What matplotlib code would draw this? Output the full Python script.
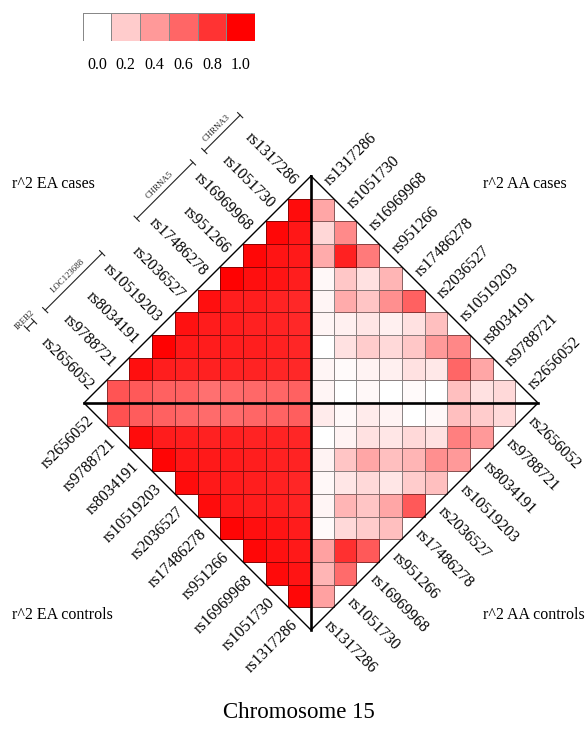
import numpy as np
import matplotlib
matplotlib.use('Agg')
import matplotlib.pyplot as plt
from matplotlib.colors import LinearSegmentedColormap

plt.rcParams['font.family'] = ['Liberation Serif', 'DejaVu Serif']

# ---------------- data ----------------
snps = ['rs2656052', 'rs9788721', 'rs8034191', 'rs10519203', 'rs2036527',
        'rs17486278', 'rs951266', 'rs16969968', 'rs1051730', 'rs1317286']

# r^2 rows: row i holds pairs (snp i, snp j) for j = i+1 .. 9
ea_cases = [
    [0.67, 0.65, 0.62, 0.62, 0.56, 0.58, 0.59, 0.60, 0.62],
    [0.94, 0.88, 0.87, 0.87, 0.86, 0.86, 0.85, 0.84],
    [0.99, 0.90, 0.89, 0.88, 0.88, 0.87, 0.85],
    [0.93, 0.89, 0.88, 0.87, 0.86, 0.84],
    [0.94, 0.88, 0.88, 0.86, 0.84],
    [0.99, 0.94, 0.92, 0.88],
    [0.97, 0.92, 0.90],
    [0.97, 0.91],
    [0.95],
]
ea_controls = [
    [0.68, 0.64, 0.62, 0.60, 0.58, 0.58, 0.60, 0.61, 0.63],
    [0.95, 0.89, 0.88, 0.87, 0.87, 0.86, 0.86, 0.85],
    [0.98, 0.91, 0.90, 0.89, 0.88, 0.87, 0.86],
    [0.95, 0.90, 0.89, 0.88, 0.87, 0.85],
    [0.95, 0.90, 0.89, 0.88, 0.86],
    [0.98, 0.94, 0.92, 0.89],
    [0.97, 0.93, 0.90],
    [0.96, 0.92],
    [0.97],
]
aa_cases = [
    [0.15, 0.12, 0.25, 0.00, 0.02, 0.00, 0.03, 0.00, 0.04],
    [0.35, 0.60, 0.09, 0.12, 0.06, 0.05, 0.02, 0.04],
    [0.47, 0.40, 0.22, 0.15, 0.20, 0.12, 0.00],
    [0.25, 0.12, 0.06, 0.10, 0.06, 0.04],
    [0.62, 0.44, 0.23, 0.33, 0.04],
    [0.29, 0.12, 0.22, 0.03],
    [0.52, 0.87, 0.33],
    [0.46, 0.16],
    [0.35],
]
aa_controls = [
    [0.15, 0.20, 0.25, 0.03, 0.00, 0.05, 0.08, 0.03, 0.08],
    [0.40, 0.50, 0.12, 0.15, 0.10, 0.12, 0.05, 0.00],
    [0.40, 0.44, 0.29, 0.25, 0.35, 0.23, 0.05],
    [0.25, 0.20, 0.10, 0.15, 0.10, 0.03],
    [0.65, 0.35, 0.23, 0.29, 0.04],
    [0.25, 0.20, 0.15, 0.02],
    [0.65, 0.81, 0.37],
    [0.58, 0.29],
    [0.37],
]

legend_values = [0.0, 0.2, 0.4, 0.6, 0.8, 1.0]
legend_labels = ['0.0', '0.2', '0.4', '0.6', '0.8', '1.0']

genes = ['IREB2', 'LOC123688', 'CHRNA5', 'CHRNA3']
gene_start = [-0.12, 0.69, 4.72, 7.70]
gene_end = [0.20, 3.20, 7.20, 9.28]

panel_titles = ['r^2 EA cases', 'r^2 AA cases', 'r^2 EA controls', 'r^2 AA controls']
main_title = 'Chromosome 15'

# ---------------- figure ----------------
W, H, DPI = 587, 744, 100
fig = plt.figure(figsize=(W / DPI, H / DPI), dpi=DPI)

cx, cy, cell = 311.0, 403.0, 22.7   # centre (px) and cell size (px)
ax = fig.add_axes([0, 0, 1, 1])
ax.set_xlim(-cx / cell, (W - cx) / cell)
ax.set_ylim(-(H - cy) / cell, cy / cell)
ax.set_aspect('auto')
ax.axis('off')

cmap = LinearSegmentedColormap.from_list('wr', ['#FFFFFF', '#FF0000'])

quadrants = [
    (ea_cases, np.arange(-9, 1), np.arange(0, 10)),
    (aa_cases, np.arange(9, -1, -1), np.arange(0, 10)),
    (ea_controls, np.arange(-9, 1), np.arange(0, -10, -1)),
    (aa_controls, np.arange(9, -1, -1), np.arange(0, -10, -1)),
]
for rows, xe, ye in quadrants:
    for i, row in enumerate(rows):
        ax.pcolormesh(xe[i:], ye[i:i + 2], [row], cmap=cmap, vmin=0, vmax=1,
                      edgecolors=(0, 0, 0, 0.45), linewidth=0.55, zorder=1)

# diamond outline and axes
ax.plot([0, 10, 0, -10, 0], [10, 0, -10, 0, 10], color='black', lw=1.0, zorder=3)
ax.plot([0, 0], [10, -10], color='black', lw=1.9, zorder=4)
ax.plot([-10, 10], [0, 0], color='black', lw=1.9, zorder=4)

# SNP labels
g = 0.27
s2 = np.sqrt(0.5)
fs = 11.5
for k, name in enumerate(snps):
    a, b = 9.5 - k, k + 0.5
    ax.text(-a - g * s2, b + g * s2, name, rotation=-45, ha='right', va='center',
            rotation_mode='anchor', fontsize=fs)
    ax.text(a + g * s2, b + g * s2, name, rotation=45, ha='left', va='center',
            rotation_mode='anchor', fontsize=fs)
    ax.text(-a - g * s2, -b - g * s2, name, rotation=45, ha='right', va='center',
            rotation_mode='anchor', fontsize=fs)
    ax.text(a + g * s2, -b - g * s2, name, rotation=-45, ha='left', va='center',
            rotation_mode='anchor', fontsize=fs)

# gene brackets (upper-left)
d = 2.9
tk = 0.16
for gname, k0, k1 in zip(genes, gene_start, gene_end):
    x0, y0 = k0 - 9.5 - d, k0 + 0.5 + d
    x1, y1 = k1 - 9.5 - d, k1 + 0.5 + d
    ax.plot([x0, x1], [y0, y1], color='#222222', lw=0.8, zorder=3)
    for (px, py) in [(x0, y0), (x1, y1)]:
        ax.plot([px - tk * s2, px + tk * s2], [py + tk * s2, py - tk * s2],
                color='#222222', lw=0.8, zorder=3)
    mx, my = (x0 + x1) / 2, (y0 + y1) / 2
    ax.text(mx - 0.15 * s2, my + 0.15 * s2, gname, rotation=45, ha='center', va='bottom',
            rotation_mode='anchor', fontsize=6.3, color='#222222')

# panel titles
tfs = 11.5
fig.text(12 / W, 1 - 184 / H, panel_titles[0], ha='left', va='center', fontsize=tfs)
fig.text(483 / W, 1 - 184 / H, panel_titles[1], ha='left', va='center', fontsize=tfs)
fig.text(12 / W, 1 - 615 / H, panel_titles[2], ha='left', va='center', fontsize=tfs)
fig.text(483 / W, 1 - 615 / H, panel_titles[3], ha='left', va='center', fontsize=tfs)

fig.text(299 / W, 1 - 712 / H, main_title, ha='center', va='center', fontsize=16.5)

# colour legend
lax = fig.add_axes([82.7 / W, 1 - 40.7 / H, 172.3 / W, 28.0 / H])
lax.pcolormesh(np.arange(len(legend_values) + 1), [0, 1], [legend_values], cmap=cmap,
               vmin=0, vmax=1, edgecolors='#888888', linewidth=0.6)
lax.set_xlim(0, len(legend_values))
lax.set_ylim(0, 1)
lax.set_xticks(np.arange(len(legend_values)) + 0.5)
lax.set_xticklabels(legend_labels, fontsize=11.5)
lax.set_yticks([])
lax.tick_params(axis='x', length=0, pad=12)
for sp in lax.spines.values():
    sp.set_visible(False)

fig.savefig('out.png', dpi=DPI)
